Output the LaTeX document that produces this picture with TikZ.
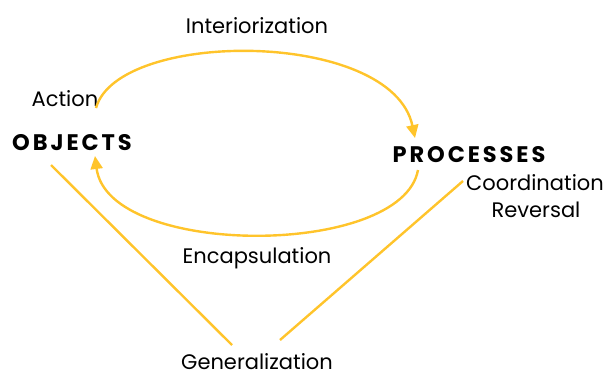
\documentclass[tikz,border=0pt]{standalone}
\usepackage{fontspec}
\setmainfont{Poppins}
\usetikzlibrary{arrows.meta}
\definecolor{gold}{HTML}{FFC42B}
\newfontfamily\spaced[LetterSpace=13]{Poppins}
\begin{document}
\begin{tikzpicture}[x=1pt,y=-1pt,
  lbl/.style={inner sep=0pt,font=\fontsize{21}{24}\selectfont},
  big/.style={inner sep=0pt,font=\fontsize{22.5}{26}\selectfont\spaced\bfseries},
  con/.style={draw=gold,line width=2.4pt},
  arr/.style={con,-{Triangle[length=13pt,width=12pt]}}]
\useasboundingbox (0,0) rectangle (604,376);
\node[lbl] (int) at (257,26) {Interiorization};
\node[lbl] (act) at (65,99) {Action};
\node[big] (obj) at (72,143) {OBJECTS};
\node[big] (pro) at (469,155) {PROCESSES};
\node[lbl] (coo) at (535,183) {Coordination};
\node[lbl] (rev) at (536,210) {Reversal};
\node[lbl] (enc) at (257,258) {Encapsulation};
\node[lbl] (gen) at (257,362) {Generalization};
\coordinate (t1) at (96,108);
\coordinate (t2) at (415,138);
\coordinate (b1) at (418,170);
\coordinate (b2) at (95,156);
\coordinate (l1) at (51,165);
\coordinate (l2) at (232,345);
\coordinate (r1) at (463,181);
\coordinate (r2) at (280,340);
\draw[arr] (t1) .. controls (118,29) and (392,29) .. (t2);
\draw[arr] (b1) .. controls (402,258) and (108,258) .. (b2);
\draw[con] (l1) -- (l2);
\draw[con] (r1) -- (r2);
\end{tikzpicture}
\end{document}
